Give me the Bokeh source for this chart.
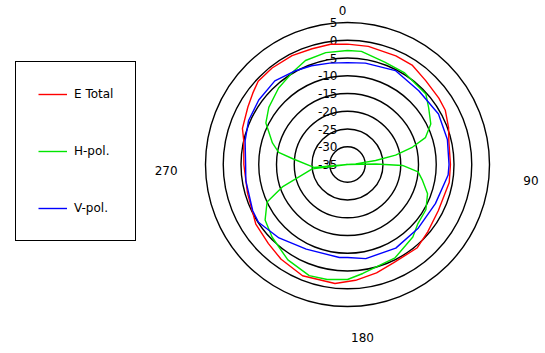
import numpy as np
from bokeh.plotting import figure
from bokeh.models import Range1d, Legend, LegendItem, ColumnDataSource
from bokeh.embed import file_html
from bokeh.resources import INLINE

# Polar pattern: angle in degrees (clockwise from top), level in dB
ring_db = [5, 0, -5, -10, -15, -20, -25, -30]
ring_labels = ["5", "0", "-5", "-10", "-15", "-20", "-25", "-30", "-35"]
ring_label_db = [5, 0, -5, -10, -15, -20, -25, -30, -35]
angle_labels = ["0", "90", "180", "270"]
angle_label_deg = [0, 90, 180, 270]

e_total_deg = [0, 10, 24, 33, 43, 54, 61, 70, 77, 90, 100, 117, 130, 140, 155, 165, 176,
               186, 202, 215, 225, 237, 254, 270, 283, 289, 300, 307, 313, 322, 333, 343, 352, 360]
e_total_db = [-1.1, -1.2, -1.5, -1.6, -2.7, -3.2, -3.5, -4.7, -5.7, -6.0, -5.9, -6.3, -5.5, -4.4,
              -4.4, -3.4, -2.3, -1.3, -1.2, -2.4, -3.5, -4.2, -5.7, -5.8, -5.0, -3.7, -2.6, -1.6,
              -0.6, -0.5, -0.6, -0.9, -0.8, -1.1]

h_pol_deg = [0, 7, 20, 32, 48, 55, 64, 71, 75, 79, 82, 86, 88, 89, 91, 96, 102, 110, 120, 130,
             138, 153, 172, 180, 190, 199, 212, 226, 236, 245, 251, 263, 270, 265, 276, 280, 286,
             297, 306, 318, 329, 338, 349, 360]
h_pol_db = [-2.9, -2.9, -4.3, -4.6, -5.3, -7.1, -8.9, -11.8, -16.0, -21.2, -27.0, -32.7, -35.0,
            -27.0, -19.5, -15.0, -13.4, -11.0, -9.5, -9.1, -7.5, -5.5, -4.0, -2.6, -2.1, -1.9,
            -3.3, -5.5, -7.0, -10.0, -15.6, -25.0, -35.0, -25.5, -19.5, -15.3, -13.0, -9.2,
            -7.6, -6.0, -4.8, -3.4, -2.9, -2.9]

v_pol_deg = [0, 10, 27, 44, 61, 76, 90, 96, 114, 132, 150, 169, 180, 185, 206, 223, 237, 244,
             261, 270, 283, 294, 306, 319, 331, 340, 350, 360]
v_pol_db = [-6.3, -6.0, -5.3, -6.1, -5.7, -6.0, -6.4, -6.5, -7.9, -8.2, -7.8, -8.0, -8.8, -8.7,
            -8.5, -6.7, -5.1, -5.3, -6.0, -6.3, -5.4, -4.5, -4.1, -3.8, -4.8, -5.4, -6.0, -6.3]

R_MIN = -35.0  # level at the centre of the chart


def to_xy(deg, db):
    r = np.clip(np.asarray(db, dtype=float) - R_MIN, 0, None)
    t = np.radians(np.asarray(deg, dtype=float))
    return r * np.sin(t), r * np.cos(t)


SCALE = 3.55  # pixels per dB
W, H = 545, 353
CX, CY = 347, 164
p = figure(width=W, height=H, output_backend="svg", toolbar_location=None,
           x_range=Range1d(-CX / SCALE, (W - CX) / SCALE),
           y_range=Range1d(-(H - CY) / SCALE, CY / SCALE),
           min_border=0, outline_line_color=None, background_fill_color="white")
p.axis.visible = False
p.grid.visible = False

# Rings
rr = [d - R_MIN for d in ring_db]
p.circle(x=[0] * len(rr), y=[0] * len(rr), radius=rr, fill_color=None,
         line_color="black", line_width=1.4)

# Ring labels, right-aligned just left of the vertical through the centre
src = ColumnDataSource(dict(x=[0] * len(ring_labels),
                            y=[d - R_MIN for d in ring_label_db], t=ring_labels))
p.text(x="x", y="y", text="t", source=src, text_align="right", text_baseline="middle",
       x_offset=-10, text_font_size="12px", text_color="black",
       text_font={"value": "DejaVu Sans"})

# Angle labels just outside the outer ring
ax, ay = to_xy(angle_label_deg, [13, 13, 13, 13])
asrc = ColumnDataSource(dict(x=ax, y=ay, t=angle_labels,
                             dx=[-5, 13, 15, -11], dy=[16, 16, 3, 6]))
p.text(x="x", y="y", text="t", source=asrc, text_align="center", text_baseline="middle",
       x_offset="dx", y_offset="dy", text_font_size="12px", text_color="black",
       text_font={"value": "DejaVu Sans"})

ex, ey = to_xy(e_total_deg, e_total_db)
hx, hy = to_xy(h_pol_deg, h_pol_db)
vx, vy = to_xy(v_pol_deg, v_pol_db)
r_e = p.line(ex, ey, line_color="#ff0000", line_width=1.4)
r_h = p.line(hx, hy, line_color="#00e600", line_width=1.4)
r_v = p.line(vx, vy, line_color="#0000ff", line_width=1.4)

legend = Legend(items=[LegendItem(label="E Total", renderers=[r_e]),
                       LegendItem(label="H-pol.", renderers=[r_h]),
                       LegendItem(label="V-pol.", renderers=[r_v])],
                location=(15, 112), glyph_width=29, glyph_height=20, label_height=20,
                spacing=37, padding=22, margin=0, label_standoff=7,
                label_text_font="DejaVu Sans", label_text_font_size="12px",
                label_text_color="black",
                border_line_color="black", border_line_width=1.5, border_line_alpha=1,
                background_fill_color="white", background_fill_alpha=1)
p.add_layout(legend)

open("out.html", "w").write(file_html(p, INLINE))
